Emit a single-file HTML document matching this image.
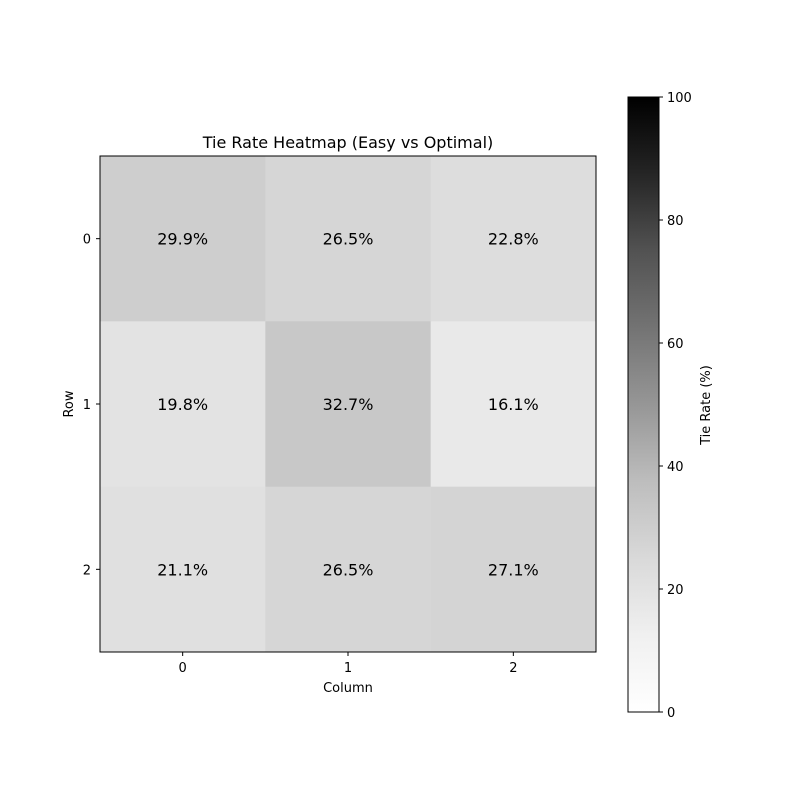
<!DOCTYPE html>
<html><head><meta charset="utf-8">
<style>
body{margin:0;background:#fff;}
svg text{font-family:"DejaVu Sans","Liberation Sans",sans-serif;}
</style></head>
<body>
<svg id="chart" width="800" height="800" xmlns="http://www.w3.org/2000/svg">
<defs>
<linearGradient id="greys" x1="0" y1="1" x2="0" y2="0">
<stop offset="0" stop-color="#ffffff"/><stop offset="0.125" stop-color="#f0f0f0"/>
<stop offset="0.25" stop-color="#d9d9d9"/><stop offset="0.375" stop-color="#bdbdbd"/>
<stop offset="0.5" stop-color="#969696"/><stop offset="0.625" stop-color="#737373"/>
<stop offset="0.75" stop-color="#525252"/><stop offset="0.875" stop-color="#252525"/>
<stop offset="1" stop-color="#000000"/>
</linearGradient>
</defs>
<rect width="800" height="800" fill="#fff"/>
<text x="348" y="148" font-size="16" text-anchor="middle">Tie Rate Heatmap (Easy vs Optimal)</text>
<g id="cells"></g>
<rect x="100" y="156" width="496" height="496" fill="none" stroke="#000" stroke-width="1"/>
<g id="axes"></g>
<text x="348" y="692" font-size="13" text-anchor="middle">Column</text>
<text x="73" y="404" font-size="13" text-anchor="middle" transform="rotate(-90 73 404)">Row</text>
<rect x="628" y="97" width="31" height="615" fill="url(#greys)" stroke="#000" stroke-width="1"/>
<g id="cbticks"></g>
<text x="710" y="405" font-size="13" text-anchor="middle" transform="rotate(-90 710 405)">Tie Rate (%)</text>
</svg>
<script>
const rowLabels = ["0","1","2"];
const colLabels = ["0","1","2"];
const values = [
  [29.9, 26.5, 22.8],
  [19.8, 32.7, 16.1],
  [21.1, 26.5, 27.1]
];
const cbTicks = [0,20,40,60,80,100];

const NS="http://www.w3.org/2000/svg";
const px0=100,py0=156,W=496,H=496;
const cw=W/colLabels.length, ch=H/rowLabels.length;
const xPos=j=>px0+cw*j, yPos=i=>py0+ch*i;
const cbY=v=>712-(v/100)*615;
const stops=[255,240,217,189,150,115,82,37,0];
function grey(v){
  const t=Math.max(0,Math.min(1,v/100))*8;const k=Math.min(7,Math.floor(t));const f=t-k;
  const g=Math.round(stops[k]+(stops[k+1]-stops[k])*f);return `rgb(${g},${g},${g})`;
}
function mk(tag,attrs,parent,txt){const e=document.createElementNS(NS,tag);for(const k in attrs)e.setAttribute(k,attrs[k]);if(txt!==undefined)e.textContent=txt;parent.appendChild(e);return e;}
const cells=document.getElementById('cells');
values.forEach((row,i)=>row.forEach((v,j)=>{
  const r=mk('rect',{x:xPos(j),y:yPos(i),width:cw+0.5,height:ch+0.5,fill:grey(v)},cells);
  
  
  const t=mk('text',{x:xPos(j)+cw/2,y:yPos(i)+ch/2+6,'font-size':16,'text-anchor':'middle'},cells,v.toFixed(1)+'%');
  
  
}));
const axes=document.getElementById('axes');
colLabels.forEach((c,j)=>{
  const x=xPos(j)+cw/2;
  const l=mk('line',{x1:x,x2:x,y1:652,y2:656,stroke:'#000'},axes);
  
  
  const t=mk('text',{x:x,y:672,'font-size':13,'text-anchor':'middle'},axes,c);
  
  
});
rowLabels.forEach((r,i)=>{
  const y=yPos(i)+ch/2;
  const l=mk('line',{x1:96,x2:100,y1:y,y2:y,stroke:'#000'},axes);
  
  
  const t=mk('text',{x:91,y:y+5,'font-size':13,'text-anchor':'end'},axes,r);
  
  
});
const cbt=document.getElementById('cbticks');
cbTicks.forEach(v=>{
  const y=cbY(v);
  const l=mk('line',{x1:659,x2:663,y1:y,y2:y,stroke:'#000'},cbt);
  
  
  const t=mk('text',{x:667,y:y+5,'font-size':13},cbt,String(v));
  
  
});
</script>
</body></html>
